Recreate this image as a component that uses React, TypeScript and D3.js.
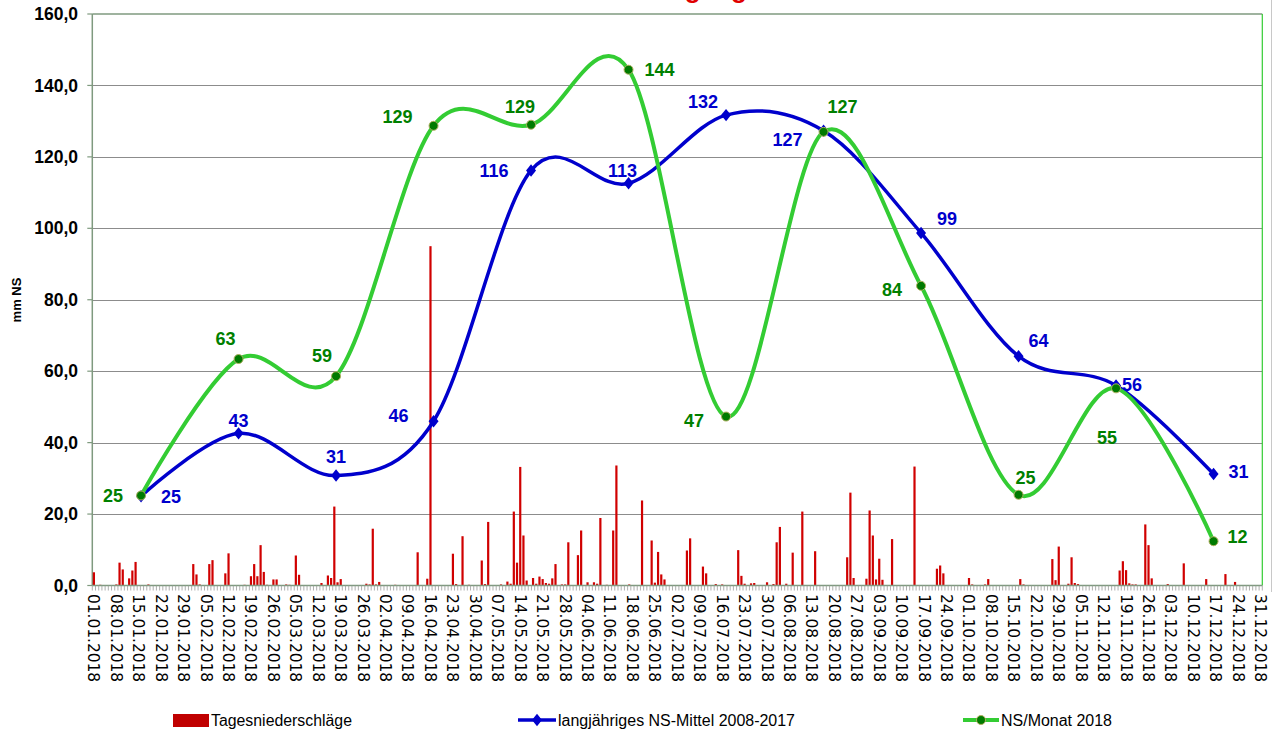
import React from "react";
import * as d3 from "d3";

// ---------- data ----------
const months = ["Jan", "Feb", "Mär", "Apr", "Mai", "Jun", "Jul", "Aug", "Sep", "Okt", "Nov", "Dez"];
const nsMittel = [25.0, 42.6, 30.8, 46.0, 116.2, 112.6, 131.7, 127.3, 98.7, 64.2, 56.0, 31.2];
const ns2018 = [25.2, 63.4, 58.6, 128.7, 129.0, 144.4, 47.3, 127.0, 83.9, 25.4, 55.2, 12.4];
const yTicks = [0, 20, 40, 60, 80, 100, 120, 140, 160];

// daily precipitation 2018 (days not listed: 0)
const tagesNS: [string, number][] = [
  ["01.01", 3.7], ["03.01", 0.2], ["08.01", 0.3], ["09.01", 6.4], ["10.01", 4.5], ["12.01", 2.0],
  ["13.01", 4.2], ["14.01", 6.6], ["18.01", 0.3],
  ["01.02", 6.0], ["02.02", 3.1], ["03.02", 0.3], ["06.02", 6.0], ["07.02", 7.1], ["11.02", 3.4],
  ["12.02", 9.0], ["17.02", 0.2], ["19.02", 2.6], ["20.02", 6.0], ["21.02", 2.6], ["22.02", 11.3],
  ["23.02", 3.8], ["24.02", 0.2], ["26.02", 1.7], ["27.02", 1.7],
  ["02.03", 0.3], ["03.03", 0.2], ["05.03", 8.4], ["06.03", 3.0], ["13.03", 0.7], ["15.03", 2.8],
  ["16.03", 2.1], ["17.03", 22.1], ["18.03", 0.9], ["19.03", 1.8], ["27.03", 0.5], ["28.03", 0.3],
  ["29.03", 15.9], ["30.03", 0.3], ["31.03", 1.0],
  ["05.04", 0.2], ["12.04", 9.3], ["15.04", 1.9], ["16.04", 95.0], ["23.04", 8.9], ["24.04", 0.4],
  ["26.04", 13.8], ["28.04", 0.2],
  ["02.05", 7.0], ["03.05", 0.4], ["04.05", 17.8], ["08.05", 0.3], ["10.05", 1.1], ["11.05", 0.5],
  ["12.05", 20.7], ["13.05", 6.4], ["14.05", 33.2], ["15.05", 14.0], ["16.05", 1.4], ["18.05", 2.1],
  ["19.05", 0.5], ["20.05", 2.5], ["21.05", 1.8], ["22.05", 0.7], ["23.05", 0.5], ["24.05", 2.0],
  ["25.05", 6.0], ["27.05", 0.3], ["28.05", 0.3], ["29.05", 12.1],
  ["01.06", 8.5], ["02.06", 15.4], ["04.06", 0.9], ["06.06", 0.9], ["07.06", 0.5], ["08.06", 18.9],
  ["10.06", 0.2], ["12.06", 15.4], ["13.06", 33.6], ["17.06", 0.3], ["21.06", 23.8], ["24.06", 12.6],
  ["25.06", 0.8], ["26.06", 9.4], ["27.06", 3.1], ["28.06", 1.7],
  ["05.07", 9.8], ["06.07", 13.2], ["10.07", 5.3], ["11.07", 3.4], ["14.07", 0.4], ["16.07", 0.3],
  ["21.07", 9.9], ["22.07", 2.7], ["23.07", 0.5], ["25.07", 0.6], ["26.07", 0.7], ["30.07", 0.9],
  ["01.08", 0.4], ["02.08", 12.1], ["03.08", 16.4], ["05.08", 0.5], ["07.08", 9.2], ["10.08", 20.7],
  ["14.08", 9.6], ["24.08", 7.9], ["25.08", 26.0], ["26.08", 2.1], ["30.08", 1.9], ["31.08", 21.0],
  ["01.09", 14.0], ["02.09", 1.7], ["03.09", 7.5], ["04.09", 1.6], ["07.09", 13.0], ["14.09", 33.3],
  ["21.09", 4.7], ["22.09", 5.6], ["23.09", 3.4],
  ["01.10", 2.1], ["02.10", 0.3], ["06.10", 0.3], ["07.10", 1.8], ["17.10", 1.8], ["18.10", 0.3],
  ["27.10", 7.4], ["28.10", 1.5], ["29.10", 10.9],
  ["01.11", 0.5], ["02.11", 7.9], ["03.11", 0.7], ["04.11", 0.4], ["17.11", 4.2], ["18.11", 6.8],
  ["19.11", 4.3], ["20.11", 0.6], ["21.11", 0.3], ["22.11", 0.3], ["25.11", 17.1], ["26.11", 11.3],
  ["27.11", 2.0],
  ["02.12", 0.4], ["07.12", 6.2], ["14.12", 1.8], ["20.12", 3.2], ["23.12", 1.0],
];

// label placement offsets (style, not data)
const mittelLabelOff: [number, number][] = [
  [30, 0], [0, -13], [0, -19], [-35, -5], [-37, 0], [-6, -13], [-23, -13], [-36, 9], [26, -14], [20, -15], [16, -1], [25, -2],
];
const ns2018LabelOff: [number, number][] = [
  [-28, 0], [-13, -20], [-14, -20], [-36, -9], [-11, -18], [31, 0], [-32, 4], [19, -25], [-29, 4], [7, -17], [-9, 49], [24, -5],
];

// ---------- layout ----------
const W = 1277, H = 735;
const L = 92.3, R = 1262.3, T = 14, B = 585.5;
const DIAMOND = "M0,-6.2L5,0L0,6.2L-5,0Z";

export default function App() {
  const days = d3.timeDay.range(new Date(2018, 0, 1), new Date(2019, 0, 1));
  const fmtDay = d3.timeFormat("%d.%m.%Y");
  const dayKeys = days.map((d) => fmtDay(d));
  const xDay = d3.scaleBand<string>().domain(dayKeys).range([L, R]).padding(0);
  const xMon = d3.scaleBand<string>().domain(months).range([L, R]).padding(0);
  const y = d3.scaleLinear().domain([0, 160]).range([B, T]);
  const locale = d3.formatLocale({ decimal: ",", thousands: ".", grouping: [3], currency: ["", "€"] });
  const fmtY = locale.format(".1f");
  const fmtLbl = d3.format(".0f");

  const bw = xDay.bandwidth();
  const barW = 2.2;

  const line = d3
    .line<number>()
    .x((_, i) => (xMon(months[i]) as number) + xMon.bandwidth() / 2)
    .y((v) => y(v))
    .curve(d3.curveCardinal.tension(0));

  const mx = (i: number) => (xMon(months[i]) as number) + xMon.bandwidth() / 2;
  const labelDays = dayKeys.filter((_, i) => i % 7 === 0);

  const lblFont = "'Liberation Sans', Arial, sans-serif";

  return (
    <svg width={W} height={H} style={{ position: "absolute", left: 0, top: 0, background: "#fff" }}>
      {/* title, mostly cut off at top as in the original */}
      <text x={601} y={-2} fill="#e00000" fontFamily={lblFont} fontWeight="bold" fontSize={26}>
        Jahresgang 2018
      </text>
      {/* outer chart border at right */}
      <line x1={1271.5} x2={1271.5} y1={0} y2={592} stroke="#c8c8c8" strokeWidth={1} />

      {/* gridlines */}
      {yTicks.filter((t) => t > 0 && t < 160).map((t) => (
        <line key={t} x1={L} x2={R} y1={Math.round(y(t)) + 0.5} y2={Math.round(y(t)) + 0.5} stroke="#8c8c8c" strokeWidth={1.2} />
      ))}
      {/* plot borders */}
      <line x1={L} x2={R} y1={T} y2={T} stroke="#7f9a7f" strokeWidth={1.5} />
      <line x1={R} x2={R} y1={T} y2={B} stroke="#33cc33" strokeWidth={1.2} />

      {/* y axis */}
      <line x1={L} x2={L} y1={T} y2={B} stroke="#7f9a7f" strokeWidth={1.5} />
      {yTicks.map((t) => (
        <g key={t}>
          <line x1={L - 5} x2={L} y1={y(t)} y2={y(t)} stroke="#7f9a7f" strokeWidth={1.2} />
          <text x={78} y={y(t)} dy="0.35em" textAnchor="end" fontFamily={lblFont} fontWeight="bold" fontSize={17.5} fill="#000">
            {fmtY(t)}
          </text>
        </g>
      ))}
      <text transform={`translate(21,300) rotate(-90)`} textAnchor="middle" fontFamily={lblFont} fontWeight="bold" fontSize={13} fill="#000">
        mm NS
      </text>

      {/* daily bars */}
      {tagesNS.map(([d, v]) => {
        const key = `${d}.2018`;
        const x0 = (xDay(key) as number) + bw / 2 - barW / 2;
        return <rect key={d} x={x0} y={y(v)} width={barW} height={B - y(v)} fill="#d00000" />;
      })}

      {/* x axis */}
      <line x1={L} x2={R} y1={B} y2={B} stroke="#7f9a7f" strokeWidth={1.5} />
      {dayKeys.map((k) => (
        <line key={k} x1={xDay(k) as number} x2={xDay(k) as number} y1={B} y2={B + 5} stroke="#9a9a9a" strokeWidth={0.8} />
      ))}
      <line x1={R} x2={R} y1={B} y2={B + 5} stroke="#9a9a9a" strokeWidth={0.8} />
      {labelDays.map((k) => (
        <text
          key={k}
          transform={`translate(${(xDay(k) as number) + bw / 2},594) rotate(90)`}
          dy="0.36em"
          fontFamily="'DejaVu Sans', Verdana, sans-serif"
          fontSize={15.4}
          fill="#000"
        >
          {k}
        </text>
      ))}

      {/* long-term mean */}
      <path d={line(nsMittel) || ""} fill="none" stroke="#0000cc" strokeWidth={3.5} />
      {nsMittel.map((v, i) => (
        <path key={i} d={DIAMOND} transform={`translate(${mx(i)},${y(v)})`} fill="#0000cc" />
      ))}

      {/* 2018 */}
      <path d={line(ns2018) || ""} fill="none" stroke="#33cc33" strokeWidth={4} />
      {ns2018.map((v, i) => (
        <circle key={i} cx={mx(i)} cy={y(v)} r={4.5} fill="#007a00" stroke="#b0b060" strokeWidth={1} />
      ))}

      {/* labels */}
      {nsMittel.map((v, i) => (
        <text key={i} x={mx(i) + mittelLabelOff[i][0]} y={y(v) + mittelLabelOff[i][1]} dy="0.35em" textAnchor="middle"
          fontFamily={lblFont} fontWeight="bold" fontSize={18} fill="#0000cc">
          {fmtLbl(v)}
        </text>
      ))}
      {ns2018.map((v, i) => (
        <text key={i} x={mx(i) + ns2018LabelOff[i][0]} y={y(v) + ns2018LabelOff[i][1]} dy="0.35em" textAnchor="middle"
          fontFamily={lblFont} fontWeight="bold" fontSize={18} fill="#008000">
          {fmtLbl(v)}
        </text>
      ))}

      {/* legend */}
      <g fontFamily="'Liberation Sans Narrow', 'Arial Narrow', 'Liberation Sans', Arial, sans-serif" fontSize={16} fill="#000">
        <rect x={173} y={714} width={36} height={13} fill="#c00000" />
        <text x={211} y={726} textLength={141} lengthAdjust="spacingAndGlyphs">Tagesniederschläge</text>
        <line x1={518} x2={556} y1={720} y2={720} stroke="#0000cc" strokeWidth={3.5} />
        <path d={DIAMOND} transform="translate(537,720)" fill="#0000cc" />
        <text x={558} y={726} textLength={237} lengthAdjust="spacingAndGlyphs">langjähriges NS-Mittel 2008-2017</text>
        <line x1={963} x2={999} y1={720} y2={720} stroke="#33cc33" strokeWidth={4} />
        <circle cx={981} cy={720} r={4.5} fill="#007a00" stroke="#b0b060" strokeWidth={1} />
        <text x={1001} y={726} textLength={111} lengthAdjust="spacingAndGlyphs">NS/Monat 2018</text>
      </g>
    </svg>
  );
}
